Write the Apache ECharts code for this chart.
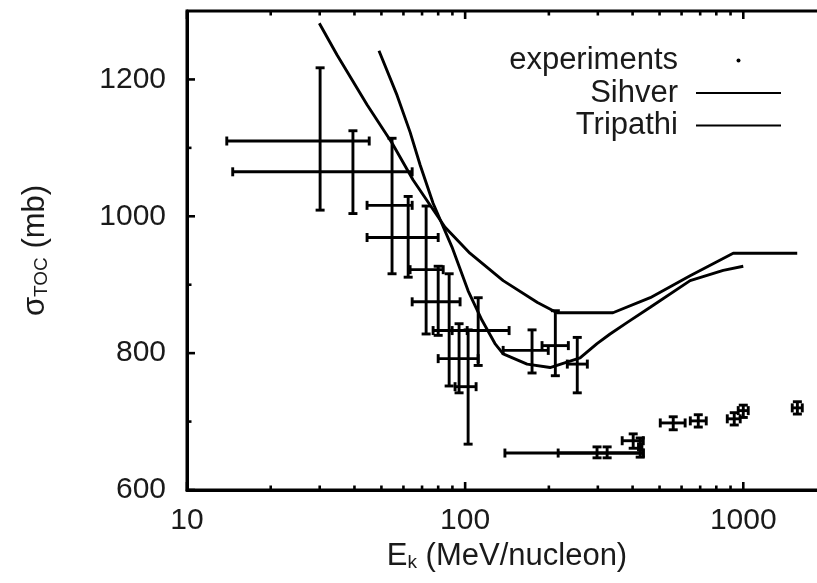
<!DOCTYPE html>
<html><head><meta charset="utf-8">
<script src="https://cdn.jsdelivr.net/npm/echarts@6/dist/echarts.min.js"></script>
<style>html,body{margin:0;padding:0;background:#fff}#c{width:817px;height:583px}</style>
</head><body><div id="c"></div>
<script>
// tick positions
const xTickMajor = [10, 100, 1000];
const xTickMinor = [20, 30, 40, 50, 60, 70, 80, 90, 200, 300, 400, 500, 600, 700, 800, 900];
const yTickMajor = [600, 800, 1000, 1200];
const yTickMinor = [700, 900, 1100];

// experiments: [E, sigma, E_low, E_high, sigma_low, sigma_high]
const experiments = [
  [30.1, 1110, 13.9, 45.2, 1009, 1217],
  [39.5, 1065, 14.6, 64.5, 1004, 1125],
  [54.6, 1016, 44.4, 64.5, 916, 1114],
  [62.4, 969, 44.4, 80.0, 911, 1029],
  [72.4, 922, 63.4, 83.4, 828, 1015],
  [80.0, 875, 64.5, 95.9, 826, 927],
  [87.6, 833, 76.7, 101.7, 752, 916],
  [95.1, 792, 80.0, 111.4, 742, 843],
  [102.5, 751, 92.0, 109.5, 667, 834],
  [111.4, 833, 89.8, 143.9, 782, 881],
  [174, 804, 137, 199, 771, 834],
  [211, 811, 189, 235, 767, 862],
  [253, 784, 233, 275, 742, 823],
  [298, 654, 139, 437, 647, 663],
  [324, 654, 216, 437, 647, 663],
  [426, 663, 420, 432, 648, 676],
  [402, 672, 367, 437, 661, 682],
  [560, 698, 503, 618, 688, 707],
  [689, 701, 645, 736, 692, 710],
  [928, 704, 876, 975, 695, 713],
  [1000, 716, 959, 1042, 706, 724],
  [1565, 720, 1500, 1630, 711, 729]
];

// model curves
const sihverE = [29.9, 34.6, 44.4, 54.6, 65.0, 84.7, 104, 137, 182, 214, 340, 463, 644, 920, 1563];
const sihverSigma = [1282, 1236, 1163, 1107, 1053, 984, 946, 906, 874, 859, 859, 881, 913, 946, 946];
const tripathiE = [49.0, 56.9, 63.4, 68.9, 76.7, 89.7, 102.5, 115, 128, 137, 167, 202, 259, 298, 332, 383, 463, 644, 847, 1000];
const tripathiSigma = [1242, 1177, 1123, 1075, 1019, 955, 891, 848, 814, 799, 784, 779, 793, 814, 828, 845, 867, 906, 921, 927];

const FONT = "'Liberation Sans', Arial, Helvetica, sans-serif";
const TXT = '#1a1a1a';
const LW = 2.9;
const Y_MIN = 600, Y_MAX = 1300, X_MIN = 10;

function zip(a, b) { return a.map((v, i) => [v, b[i]]); }

const chart = echarts.init(document.getElementById('c'), null, {renderer: 'canvas'});

function errItem(params, api) {
  const x = api.value(0), y = api.value(1);
  const c = api.coord([x, y]);
  const l = api.coord([api.value(2), y]);
  const r = api.coord([api.value(3), y]);
  const b = api.coord([x, api.value(4)]);
  const t = api.coord([x, api.value(5)]);
  const h = 4.5;
  const st = {stroke: '#000', lineWidth: LW, fill: null};
  const L = (x1, y1, x2, y2) => ({type: 'line', shape: {x1, y1, x2, y2}, style: st});
  return {type: 'group', children: [
    L(l[0], c[1], r[0], c[1]),
    L(l[0], c[1] - h, l[0], c[1] + h),
    L(r[0], c[1] - h, r[0], c[1] + h),
    L(c[0], b[1], c[0], t[1]),
    L(c[0] - h, b[1], c[0] + h, b[1]),
    L(c[0] - h, t[1], c[0] + h, t[1])
  ]};
}

const xTickData = xTickMajor.map(v => [v, 8]).concat(xTickMinor.map(v => [v, 4.5]));
const yTickData = yTickMajor.map(v => [v, 8]).concat(yTickMinor.map(v => [v, 4.5]));

function xTickItem(params, api) {
  const v = api.value(0), len = api.value(1);
  const p = api.coord([v, Y_MIN]);
  const q = api.coord([v, Y_MAX]);
  const st = {stroke: '#000', lineWidth: 2.6};
  return {type: 'group', children: [
    {type: 'line', shape: {x1: p[0], y1: p[1], x2: p[0], y2: p[1] - len}, style: st},
    {type: 'line', shape: {x1: q[0], y1: q[1], x2: q[0], y2: q[1] + len}, style: st}
  ]};
}
function yTickItem(params, api) {
  const v = api.value(0), len = api.value(1);
  const p = api.coord([X_MIN, v]);
  const st = {stroke: '#000', lineWidth: 2.6};
  return {type: 'line', shape: {x1: p[0], y1: p[1], x2: p[0] + len, y2: p[1]}, style: st};
}

const richName = {
  n: {fontSize: 31, fontFamily: FONT, color: TXT, lineHeight: 31},
  s: {fontSize: 19, fontFamily: FONT, color: TXT, lineHeight: 10, verticalAlign: 'bottom'}
};

const option = {
  backgroundColor: '#fff',
  animation: false,
  grid: {left: 187, top: 11, bottom: 93, right: -10, show: true, borderColor: '#000', borderWidth: 3,
         containLabel: false, outerBoundsMode: 'none'},
  legend: {
    orient: 'vertical', align: 'right', right: 35, top: 45, padding: 0,
    itemWidth: 85, itemHeight: 4, itemGap: 1.5, selectedMode: false,
    textStyle: {fontSize: 31, fontFamily: FONT, color: TXT, lineHeight: 30, padding: [0, 13, 0, 0]},
    data: [
      {name: 'experiments', icon: 'circle'},
      {name: 'Sihver', itemStyle: {opacity: 0}},
      {name: 'Tripathi', itemStyle: {opacity: 0}}
    ]
  },
  xAxis: {
    type: 'log', logBase: 10, min: 10, max: 2000,
    axisLine: {show: true, lineStyle: {color: '#000', width: 3}},
    axisTick: {show: false}, minorTick: {show: false},
    splitLine: {show: false}, minorSplitLine: {show: false},
    axisLabel: {
      fontSize: 30, fontFamily: FONT, color: TXT, margin: 16,
      formatter: v => { const l = Math.log10(v); return Math.abs(l - Math.round(l)) < 1e-6 ? String(Math.round(v)) : ''; }
    },
    name: '{n|E}{s|k}{n| (MeV/nucleon)}', nameLocation: 'middle', nameGap: 50,
    nameTextStyle: {rich: richName}
  },
  yAxis: {
    type: 'value', min: Y_MIN, max: Y_MAX, interval: 200,
    axisLine: {show: true, lineStyle: {color: '#000', width: 3}},
    axisTick: {show: false}, splitLine: {show: false},
    axisLabel: {
      fontSize: 30, fontFamily: FONT, color: TXT, margin: 21,
      formatter: v => (v % 200 === 0 ? String(v) : '')
    },
    name: '{n|σ}{s|TOC}{n| (mb)}', nameLocation: 'middle', nameGap: 136,
    nameTextStyle: {rich: richName}
  },
  series: [
    {
      name: 'experiments', type: 'custom', color: '#000', itemStyle: {color: '#000'},
      renderItem: errItem, encode: {x: [0, 2, 3], y: [1, 4, 5]}, data: experiments, z: 3
    },
    {
      name: 'Sihver', type: 'line', color: '#000', data: zip(sihverE, sihverSigma),
      showSymbol: false, symbol: 'none', lineStyle: {color: '#000', width: LW}, z: 2
    },
    {
      name: 'Tripathi', type: 'line', color: '#000', data: zip(tripathiE, tripathiSigma),
      showSymbol: false, symbol: 'none', lineStyle: {color: '#000', width: LW}, z: 2
    },
    {
      type: 'custom', renderItem: xTickItem, data: xTickData, encode: {x: 0}, clip: false, silent: true, z: 4
    },
    {
      type: 'custom', renderItem: yTickItem, data: yTickData, encode: {y: 0}, clip: false, silent: true, z: 4
    }
  ]
};
chart.setOption(option);
</script></body></html>
